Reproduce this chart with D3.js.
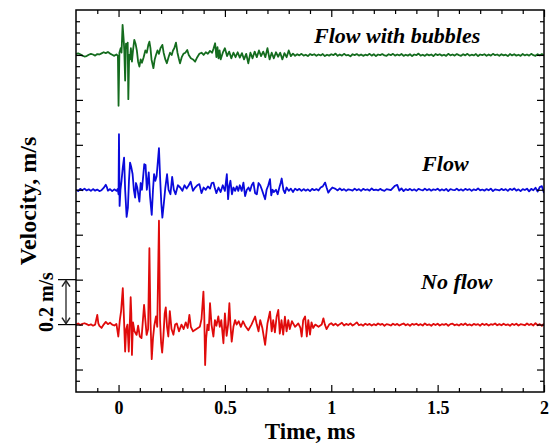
<!DOCTYPE html>
<html>
<head>
<meta charset="utf-8">
<script src="https://cdn.jsdelivr.net/npm/d3@7"></script>
<style>
  body { margin: 0; background: #fff; }
  text { font-family: "Liberation Serif", "Times New Roman", serif; font-weight: bold; }
</style>
</head>
<body>
<div id="chart"></div>
<script>
// ---------------- data (time in ms, velocity in m/s) ----------------

const seriesNames = ["Flow with bubbles", "Flow", "No flow"];
const seriesOffsets = [1.2, 0.6, 0.0];   // vertical shift of each trace, m/s
const seriesColors = ["#146c1e", "#0a0adc", "#e00b0b"];

const xMajor = [0, 0.5, 1, 1.5, 2];
const yMajor = [-0.2, 0, 0.2, 0.4, 0.6, 0.8, 1.0, 1.2];
const scaleBar = [0, 0.2];                // "0.2 m/s" bracket

// burst part of each trace, [t, v]
const greenBurst = [
  [-0.20,0.004],[-0.19,0.007],[-0.18,0.003],[-0.17,-0.003],[-0.16,-0.007],[-0.15,-0.005],[-0.14,0.001],
  [-0.13,0.005],[-0.12,0.002],[-0.11,-0.003],[-0.10,0.004],[-0.09,0.002],[-0.08,0.007],[-0.07,0.012],
  [-0.06,0.008],[-0.05,0.013],[-0.04,0.006],[-0.03,0.001],[-0.02,-0.004],[-0.01,0.002],[-0.003,-0.004],
  [0.000,-0.226],[0.004,0.010],[0.010,0.030],[0.014,0.010],[0.019,0.134],[0.024,0.070],[0.027,0.020],
  [0.031,-0.114],[0.035,0.050],[0.040,0.030],[0.043,0.055],[0.046,-0.197],[0.050,0.000],[0.054,-0.020],
  [0.058,0.030],[0.063,-0.030],[0.068,0.020],[0.074,0.067],[0.080,0.050],[0.086,0.020],[0.092,-0.030],
  [0.098,-0.052],[0.104,-0.020],[0.110,-0.035],[0.118,-0.010],[0.126,0.020],[0.133,0.010],[0.140,0.045],
  [0.145,0.059],[0.150,0.030],[0.155,-0.020],[0.164,-0.059],[0.170,-0.020],[0.176,0.000],[0.183,0.020],
  [0.190,0.005],[0.197,0.030],[0.206,0.045],[0.212,0.010],[0.220,-0.020],[0.227,-0.037],[0.235,-0.010],
  [0.242,0.010],[0.250,0.000],[0.256,0.020],[0.262,0.030],[0.270,0.055],[0.277,0.010],[0.283,-0.015],
  [0.289,-0.037],[0.297,-0.010],[0.305,0.005],[0.314,0.010],[0.323,0.022],[0.330,0.000],[0.340,-0.015],
  [0.350,-0.020],[0.360,-0.030],[0.370,-0.010],[0.380,0.005],[0.390,0.010],[0.400,0.000],[0.410,0.012],
  [0.420,0.005],[0.430,0.018],[0.440,0.010],[0.447,0.030],[0.454,0.052],[0.460,-0.010],[0.465,0.035],
  [0.470,-0.015],[0.475,0.020],[0.480,-0.020],[0.490,0.010],[0.500,0.030],[0.51,-0.005],[0.52,0.015],
  [0.53,-0.015],[0.54,0.010],[0.55,-0.010],[0.56,0.012],[0.57,-0.012],[0.58,0.008],[0.59,-0.020],
  [0.60,0.005],[0.61,-0.037],[0.62,0.010],[0.63,-0.015],[0.64,0.015],[0.65,-0.010],[0.66,0.020],
  [0.67,-0.005],[0.68,0.015],[0.69,-0.010],[0.70,0.030],[0.71,-0.020],[0.72,0.010],[0.73,-0.015],
  [0.74,0.012],[0.75,-0.008],[0.76,0.010],[0.77,-0.020],[0.78,0.008],[0.79,-0.010],[0.80,0.020],
  [0.81,-0.005],[0.82,0.006]
];

const blueBurst = [
  [-0.20,0.000],[-0.19,-0.006],[-0.18,0.004],[-0.17,-0.002],[-0.16,0.005],[-0.15,-0.003],[-0.14,0.002],
  [-0.13,-0.005],[-0.12,0.003],[-0.11,-0.004],[-0.10,0.001],[-0.09,-0.006],[-0.08,-0.002],[-0.07,0.008],
  [-0.06,0.022],[-0.055,0.012],[-0.05,-0.004],[-0.04,0.003],[-0.03,-0.006],[-0.02,0.002],[-0.01,-0.005],
  [-0.004,0.004],[0.000,-0.020],[0.002,0.247],[0.005,-0.072],[0.009,0.000],[0.014,0.040],[0.020,0.100],
  [0.026,0.143],[0.031,0.000],[0.038,-0.121],[0.044,-0.080],[0.049,0.040],[0.054,0.121],[0.060,0.100],
  [0.066,0.070],[0.072,0.000],[0.078,-0.035],[0.082,0.030],[0.088,0.010],[0.098,-0.053],[0.104,0.030],
  [0.110,0.000],[0.121,0.114],[0.127,0.110],[0.133,0.000],[0.142,0.077],[0.148,-0.030],[0.156,-0.112],
  [0.162,0.000],[0.167,0.070],[0.173,0.040],[0.179,0.060],[0.190,0.185],[0.196,0.040],[0.201,-0.060],
  [0.206,-0.124],[0.213,-0.060],[0.220,0.010],[0.228,0.069],[0.235,0.000],[0.244,-0.020],[0.252,0.057],
  [0.260,0.000],[0.268,-0.020],[0.279,0.020],[0.290,0.010],[0.300,-0.005],[0.310,0.020],[0.320,0.005],
  [0.330,0.020],[0.339,0.036],[0.350,-0.005],[0.360,0.010],[0.370,0.020],[0.380,0.025],[0.390,-0.015],
  [0.400,0.010],[0.410,0.000],[0.420,0.015],[0.430,0.005],[0.438,0.030],[0.446,0.032],[0.452,0.010],
  [0.460,-0.015],[0.470,0.010],[0.480,-0.010],[0.490,0.020],[0.500,-0.005],[0.509,0.069],[0.515,-0.042],
  [0.520,0.015],[0.526,0.040],[0.533,-0.020],[0.540,0.010],[0.548,-0.005],[0.556,0.015],[0.563,-0.005],
  [0.570,0.020],[0.579,-0.005],[0.587,0.032],[0.595,-0.028],[0.603,0.000],[0.611,0.010],[0.618,-0.005],
  [0.626,0.020],[0.634,0.032],[0.642,-0.015],[0.650,-0.020],[0.658,0.030],[0.666,0.020],[0.674,0.000],
  [0.681,-0.020],[0.689,-0.042],[0.696,0.000],[0.704,0.020],[0.712,0.047],[0.718,-0.025],[0.724,0.000],
  [0.730,-0.010],[0.740,0.000],[0.748,-0.020],[0.756,0.010],[0.762,0.030],[0.767,0.050],[0.775,0.000],
  [0.782,-0.015],[0.790,0.010],[0.800,-0.005],[0.810,0.005],[0.820,-0.010],[0.830,0.005],[0.840,-0.002],
  [0.850,0.004],[0.860,-0.005],[0.870,0.003],[0.880,-0.004],[0.890,0.002],[0.900,-0.006],[0.910,0.004],
  [0.920,-0.002],[0.930,0.003],[0.940,-0.003],[0.950,0.010],[0.960,0.015],[0.971,0.032],[0.978,0.010],
  [0.986,-0.013],[0.995,0.000],[1.005,0.010]
];

const redBurst = [
  [-0.20,0.000],[-0.19,0.005],[-0.18,-0.002],[-0.17,0.003],[-0.16,0.006],[-0.15,0.002],[-0.14,-0.003],
  [-0.13,0.001],[-0.12,-0.005],[-0.11,0.000],[-0.10,0.043],[-0.095,0.005],[-0.09,-0.006],[-0.08,-0.015],
  [-0.07,0.000],[-0.06,0.012],[-0.05,0.002],[-0.04,0.008],[-0.03,0.000],[-0.02,-0.004],[-0.01,0.003],
  [-0.001,-0.053],[0.006,0.020],[0.012,0.060],[0.020,0.162],[0.025,0.040],[0.031,-0.120],[0.036,-0.020],
  [0.042,0.000],[0.048,-0.120],[0.052,-0.020],[0.057,0.122],[0.060,0.050],[0.063,-0.135],[0.068,0.010],
  [0.075,-0.030],[0.085,-0.046],[0.092,-0.005],[0.100,-0.053],[0.108,-0.060],[0.113,0.000],[0.120,0.088],
  [0.126,0.020],[0.132,-0.046],[0.139,-0.020],[0.145,0.340],[0.150,0.020],[0.156,-0.154],[0.162,-0.060],
  [0.168,-0.005],[0.176,0.036],[0.182,-0.010],[0.190,0.462],[0.195,0.020],[0.200,-0.080],[0.205,-0.125],
  [0.211,-0.050],[0.217,0.050],[0.222,0.077],[0.228,-0.010],[0.234,-0.053],[0.241,0.060],[0.249,-0.020],
  [0.258,-0.045],[0.266,0.000],[0.274,0.005],[0.284,-0.030],[0.296,0.000],[0.306,-0.020],[0.316,0.010],
  [0.325,-0.015],[0.333,0.043],[0.340,-0.010],[0.350,-0.030],[0.366,-0.020],[0.382,-0.010],[0.390,0.025],
  [0.399,0.147],[0.403,0.040],[0.407,-0.180],[0.412,-0.060],[0.418,0.000],[0.424,-0.025],[0.430,0.095],
  [0.437,0.000],[0.446,-0.053],[0.453,0.020],[0.460,-0.005],[0.469,0.036],[0.476,-0.010],[0.483,0.020],
  [0.493,-0.083],[0.500,0.050],[0.508,-0.050],[0.515,0.000],[0.521,0.095],[0.526,0.000],[0.532,-0.076],
  [0.540,-0.010],[0.548,0.020],[0.555,0.000],[0.565,0.015],[0.575,-0.010],[0.585,0.015],[0.595,-0.005],
  [0.610,-0.025],[0.625,0.000],[0.642,0.036],[0.650,0.000],[0.658,-0.030],[0.666,0.020],[0.676,-0.015],
  [0.689,-0.090],[0.700,0.005],[0.712,0.058],[0.720,-0.030],[0.727,0.020],[0.735,-0.035],[0.743,0.035],
  [0.751,0.065],[0.758,-0.040],[0.766,0.020],[0.774,-0.045],[0.782,0.035],[0.790,-0.030],[0.798,0.020],
  [0.805,-0.020],[0.815,0.015],[0.830,-0.010],[0.845,0.005],[0.855,-0.015],[0.861,-0.053],[0.868,0.020],
  [0.877,0.036],[0.885,-0.053],[0.892,0.020],[0.900,-0.045],[0.907,0.010],[0.915,-0.015],[0.925,0.000],
  [0.940,-0.010],[0.955,0.000],[0.963,0.028],[0.970,0.000],[0.978,-0.020],[0.990,0.000]
];

// quiet tails, one sample every 0.01 ms
const tailStep = 0.01;
const greenTailStart = 0.83;
const greenTail = [
  -.004,.003,-.002,.005,-.003,.001,-.005,.004,-.001,.003, -.004,.002,-.002,.004,-.005,.001,-.003,.003,-.001,.006,
  -.004,.002,-.003,.005,-.002,.000,-.006,.003,-.001,.004, -.003,.002,-.004,.001,-.002,.005,-.003,.003,-.005,.002,
  -.001,.004,-.002,-.004,.003,-.001,.005,-.003,.002,-.002, .004,-.004,.001,-.003,.003,-.005,.002,-.001,.006,-.003,
  .001,-.004,.003,-.002,.002,-.005,.004,-.001,.003,-.003, .001,-.004,.005,-.002,.002,-.003,.004,-.001,-.004,.003,
  -.002,.005,-.003,.001,-.002,.004,-.005,.002,-.001,.003, -.004,.002,-.003,.005,-.001,.002,-.004,.003,-.002,.001,
  -.005,.004,-.002,.003,-.003,.001,-.004,.004,-.002,.002, -.003,.005,-.001,-.004,.003,-.002,.004,-.003
];
const blueTailStart = 1.02;
const blueTail = [
  .004,-.003,.006,-.002,.003,-.005,.002,.000,-.004,.005, -.002,.003,-.005,.004,-.001,.002,-.004,.006,-.002,.001,
  -.003,.004,-.002,-.005,.003,.001,-.002,.008,.018,.022, -.004,.006,-.006,.003,-.002,.004,-.003,.002,-.005,.004,
  .000,-.003,.005,-.002,.003,-.004,.002,-.001,.005,-.004, .002,-.003,.004,-.006,.003,.000,-.002,.005,-.003,.002,
  -.004,.004,-.001,.003,-.005,.002,-.002,.006,-.003,.001, -.004,.003,-.002,.005,-.006,.002,.000,-.003,.004,-.002,
  .003,-.005,.004,-.001,.006,-.004,.002,-.006,.003,-.001, .005,-.007,.004,-.002,.009,-.008,.012,.016,-.014
];
const redTailStart = 1.00;
const redTail = [
  .006,-.003,.004,-.005,.002,.008,-.004,.003,-.002,.005, -.004,.002,.010,-.003,.001,-.005,.004,-.002,.003,-.004,
  .002,-.003,.005,-.001,.003,-.005,.002,.000,-.004,.004, -.002,.003,-.004,.001,.005,-.003,.002,-.005,.003,-.001,
  .004,-.003,.002,-.004,.005,-.002,.001,-.005,.003,-.002, .004,-.004,.002,-.001,.003,-.005,.002,.004,-.003,.001,
  -.004,.003,-.002,.005,-.003,.001,-.004,.003,-.001,.002, -.005,.004,-.002,.003,-.004,.002,-.001,.005,-.003,.002,
  -.003,.004,-.002,.001,-.005,.003,-.002,.004,-.004,.002, .000,-.003,.005,-.002,.003,-.004,.006,-.003,.002,-.006,
  .004
];

// ---------------- chart ----------------

const W = 557, H = 443;
const m = { top: 10, right: 13, bottom: 51, left: 76 };

const x = d3.scaleLinear().domain([-0.2, 2]).range([m.left, W - m.right]);
const y = d3.scaleLinear().domain([-0.3, 1.4]).range([H - m.bottom, m.top]);

const withTail = (burst, start, tail) =>
  burst.concat(tail.map((v, i) => [+(start + i * tailStep).toFixed(3), v]));

const traces = [
  withTail(greenBurst, greenTailStart, greenTail),
  withTail(blueBurst, blueTailStart, blueTail),
  withTail(redBurst, redTailStart, redTail)
];

const svg = d3.select("#chart").append("svg")
  .attr("width", W).attr("height", H);

svg.append("clipPath").attr("id", "clip")
  .append("rect")
  .attr("x", m.left).attr("y", m.top)
  .attr("width", W - m.left - m.right).attr("height", H - m.top - m.bottom);

// traces
traces.forEach((pts, k) => {
  const line = d3.line()
    .x(d => x(d[0]))
    .y(d => y(d[1] + seriesOffsets[k]));
  svg.append("path")
    .datum(pts)
    .attr("clip-path", "url(#clip)")
    .attr("fill", "none")
    .attr("stroke", seriesColors[k])
    .attr("stroke-width", 1.8)
    .attr("stroke-linejoin", "round")
    .attr("d", line);
});

// ticks (all pointing inward)
const round = v => Math.round(v * 1000) / 1000;
const xMinor = d3.range(-0.1, 2, 0.1).map(round).filter(v => !xMajor.includes(v));
const yMinor = d3.range(-0.25, 1.4, 0.05).map(round).filter(v => !yMajor.some(t => Math.abs(t - v) < 1e-6));

const addAxis = (axis, transform, values, size, fmt) => {
  const g = svg.append("g").attr("transform", transform)
    .call(axis.tickValues(values).tickSizeInner(-size).tickSizeOuter(0).tickFormat(fmt));
  g.select(".domain").remove();
  g.selectAll("line").attr("stroke", "#000").attr("stroke-width", 1.2);
  g.attr("font-family", null).attr("font-size", 18);
  return g;
};

const noLabel = () => "";
const atBottom = `translate(0,${H - m.bottom})`;
const atTop = `translate(0,${m.top})`;
const atLeft = `translate(${m.left},0)`;
const atRight = `translate(${W - m.right},0)`;

addAxis(d3.axisBottom(x).tickPadding(9), atBottom, xMajor, 7, d3.format("~g"));
addAxis(d3.axisBottom(x), atBottom, xMinor, 4, noLabel);
addAxis(d3.axisTop(x), atTop, xMajor, 7, noLabel);
addAxis(d3.axisTop(x), atTop, xMinor, 4, noLabel);
addAxis(d3.axisLeft(y), atLeft, yMajor, 7, noLabel);
addAxis(d3.axisLeft(y), atLeft, yMinor, 4, noLabel);
addAxis(d3.axisRight(y), atRight, yMajor, 7, noLabel);
addAxis(d3.axisRight(y), atRight, yMinor, 4, noLabel);

// frame
svg.append("rect")
  .attr("x", m.left).attr("y", m.top)
  .attr("width", W - m.left - m.right).attr("height", H - m.top - m.bottom)
  .attr("fill", "none").attr("stroke", "#000").attr("stroke-width", 1.5);

// axis titles
svg.append("text")
  .attr("x", (m.left + W - m.right) / 2).attr("y", 439)
  .attr("text-anchor", "middle").attr("font-size", 23)
  .text("Time, ms");

svg.append("text")
  .attr("transform", `translate(36,${(m.top + H - m.bottom) / 2}) rotate(-90)`)
  .attr("text-anchor", "middle").attr("font-size", 24)
  .text("Velocity, m/s");

// 0.2 m/s scale bracket
const barX = 66;
scaleBar.forEach(v => {
  svg.append("line")
    .attr("x1", 58).attr("x2", m.left)
    .attr("y1", y(v)).attr("y2", y(v))
    .attr("stroke", "#000").attr("stroke-width", 1.2);
});
const yTop = y(scaleBar[1]), yBot = y(scaleBar[0]);
svg.append("line")
  .attr("x1", barX).attr("x2", barX)
  .attr("y1", yTop + 1).attr("y2", yBot - 1)
  .attr("stroke", "#222").attr("stroke-width", 1.3);
svg.append("path")
  .attr("d", `M${barX - 4},${yTop + 7}L${barX},${yTop + 1}L${barX + 4},${yTop + 7}` +
             `M${barX - 4},${yBot - 7}L${barX},${yBot - 1}L${barX + 4},${yBot - 7}`)
  .attr("fill", "none").attr("stroke", "#222").attr("stroke-width", 1.5);
svg.append("text")
  .attr("transform", `translate(53,${(yTop + yBot) / 2}) rotate(-90)`)
  .attr("text-anchor", "middle").attr("font-size", 20)
  .text("0.2 m/s");

// trace labels
const labelAt = [[0.919, 1.255], [1.427, 0.682], [1.422, 0.159]];
seriesNames.forEach((name, k) => {
  svg.append("text")
    .attr("x", x(labelAt[k][0])).attr("y", y(labelAt[k][1]))
    .attr("font-size", 22).attr("font-style", "italic")
    .text(name);
});
</script>
</body>
</html>
